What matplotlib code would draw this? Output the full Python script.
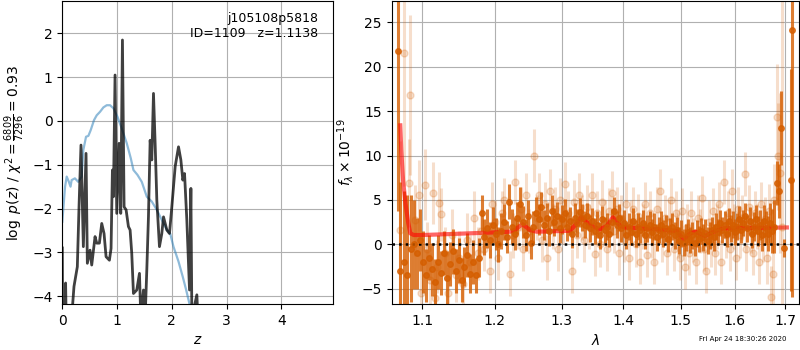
import matplotlib
matplotlib.use("Agg")
import matplotlib.pyplot as plt
from matplotlib.ticker import NullLocator, FixedLocator, FixedFormatter

# --- left panel: redshift probability / chi2 ---
z_pdf = [0.0, 0.005, 0.05, 0.06, 0.07, 0.17, 0.213, 0.274, 0.305, 0.341, 0.384, 0.433,
         0.457, 0.506, 0.537, 0.598, 0.628, 0.677, 0.72, 0.762, 0.799, 0.86, 0.89,
         0.915, 0.933, 0.963, 0.994, 1.037, 1.067, 1.098, 1.128, 1.165, 1.207, 1.238,
         1.268, 1.299, 1.36, 1.409, 1.433, 1.482, 1.512, 1.543, 1.573, 1.604, 1.634,
         1.665, 1.695, 1.726, 1.774, 1.817, 1.848, 1.909, 1.957, 2.0, 2.061, 2.122,
         2.165, 2.201, 2.232, 2.274, 2.323, 2.348, 2.366, 2.457, 2.476]
logp = [-2.9, -4.5, -4.5, -3.7, -4.5, -4.5, -3.78, -3.33, -1.96, -0.55, -2.87, -0.74,
        -3.25, -2.95, -3.29, -2.64, -2.79, -2.79, -2.34, -2.57, -3.10, -3.18, -2.91,
        -1.12, -1.73, 1.05, -2.11, -0.51, -2.11, 1.85, -1.96, -2.03, -2.41, -2.49,
        -3.02, -3.94, -3.86, -3.48, -4.5, -3.86, -4.5, -3.40, -2.19, -0.44, -0.89,
        0.63, -0.51, -1.81, -2.87, -2.57, -2.19, -2.49, -2.57, -1.96, -1.04, -0.59,
        -0.89, -1.35, -1.20, -2.26, -3.86, -1.54, -4.5, -3.97, -4.5]

z_chi = [0.0, 0.05, 0.08, 0.12, 0.15, 0.17, 0.23, 0.29, 0.354, 0.384, 0.433, 0.476,
         0.518, 0.579, 0.628, 0.689, 0.75, 0.811, 0.872, 0.933, 1.006, 1.085, 1.177,
         1.25, 1.299, 1.372, 1.451, 1.543, 1.634, 1.726, 1.817, 1.909, 1.97, 2.03,
         2.122, 2.2, 2.262, 2.323, 2.36]
chi_scaled = [-2.3, -1.5, -1.27, -1.39, -1.5, -1.35, -1.31, -1.39, -1.27, -0.66, -0.36,
              -0.34, -0.21, 0.02, 0.13, 0.21, 0.31, 0.36, 0.36, 0.29, 0.10, -0.17, -0.51,
              -0.85, -1.12, -1.23, -1.39, -1.73, -1.84, -2.03, -2.26, -2.49, -2.57, -2.87,
              -3.21, -3.56, -3.86, -4.18, -4.5]

# --- right panel: 1D spectrum ---
wave_bin = [1.0684, 1.0713, 1.0755, 1.0803, 1.085, 1.089, 1.093, 1.097, 1.101, 1.105,
            1.109, 1.113, 1.117, 1.121, 1.125, 1.129, 1.133, 1.137, 1.141, 1.145,
            1.149, 1.153, 1.157, 1.161, 1.165, 1.169, 1.173, 1.177, 1.181, 1.185,
            1.189, 1.193, 1.197, 1.201, 1.205, 1.209, 1.213, 1.217, 1.221, 1.225,
            1.229, 1.233, 1.237, 1.241, 1.245, 1.249, 1.253, 1.257, 1.261, 1.265,
            1.269, 1.273, 1.277, 1.281, 1.285, 1.289, 1.293, 1.297, 1.301, 1.305,
            1.309, 1.313, 1.317, 1.321, 1.325, 1.329, 1.333, 1.337, 1.341, 1.345,
            1.349, 1.353, 1.357, 1.361, 1.365, 1.369, 1.373, 1.377, 1.381, 1.385,
            1.389, 1.393, 1.397, 1.401, 1.405, 1.409, 1.413, 1.417, 1.421, 1.425,
            1.429, 1.433, 1.437, 1.441, 1.445, 1.449, 1.453, 1.457, 1.461, 1.465,
            1.469, 1.473, 1.477, 1.481, 1.485, 1.489, 1.493, 1.497, 1.501, 1.505,
            1.509, 1.513, 1.517, 1.521, 1.525, 1.529, 1.533, 1.537, 1.541, 1.545,
            1.549, 1.553, 1.557, 1.561, 1.565, 1.569, 1.573, 1.577, 1.581, 1.585,
            1.589, 1.593, 1.597, 1.601, 1.605, 1.609, 1.613, 1.617, 1.621, 1.625,
            1.629, 1.633, 1.637, 1.641, 1.645, 1.649, 1.653, 1.657, 1.661, 1.665,
            1.669, 1.673, 1.677, 1.6833, 1.6886, 1.6914, 1.6981, 1.7118, 1.7151]
flux_bin = [21.8, -3.0, -2.0, -3.5, -0.5, 0.0, -1.0, 0.5, -2.0, -3.5,
            -1.5, -2.8, -4.2, -2.0, -3.2, -1.0, -3.8, -2.2, -0.8, -3.0,
            -1.8, -4.0, -2.5, -1.2, -3.3, -2.0, -3.5, -1.5, 3.5, 0.8,
            1.8, 0.5, 2.2, 1.2, 0.0, 1.5, 2.5, 0.8, 4.8, 2.0,
            1.2, 3.0, 4.5, 2.5, 1.0, 3.2, 0.2, 2.0, 3.5, 2.8,
            4.2, 2.2, 3.0, 1.5, 3.8, 2.5, 3.2, 1.8, 2.8, 3.5,
            2.0, 2.6, 1.2, 3.0, 2.4, 3.6, 3.0, 2.2, 3.2, 1.8,
            2.6, 1.5, 2.2, 1.0, 2.8, 1.6, 2.0, 1.2, 2.5, 3.8,
            2.2, 3.0, 1.8, 2.4, 1.0, 2.0, 1.4, 2.6, 1.2, 2.0,
            1.6, 2.4, 1.0, 1.8, 2.2, 1.4, 2.0, 0.8, 1.6, 2.2,
            1.2, 1.8, 0.6, 1.5, 2.0, 1.0, 1.6, 0.4, 1.2, 0.2,
            0.8, 1.4, 0.5, 1.0, 0.2, 1.2, 0.6, 1.5, 0.8, 1.3,
            0.4, 1.0, 1.6, 0.8, 2.0, 1.4, 2.4, 1.6, 2.2, 1.2,
            2.6, 1.8, 2.2, 1.4, 2.0, 2.8, 1.6, 2.4, 3.2, 1.8,
            2.6, 1.2, 2.0, 2.8, 1.5, 2.2, 1.0, 2.6, 1.8, 1.2,
            2.4, 1.5, 2.0, 6.9, 6.0, 13.1, -0.45, 7.2, 24.1]
err_bin = [18, 10, 8, 9, 6, 5, 4, 3.5, 3.5, 3,
           2.5, 3, 2.5, 3, 2.5, 2.5, 3, 2.5, 2.5, 2.5,
           2.5, 2.5, 2.2, 2.5, 2.2, 2.5, 2.0, 2.2, 2.0, 2.0,
           2.2, 2.0, 2.0, 1.8, 2.0, 2.0, 2.0, 1.8, 2.0, 2.0,
           1.8, 1.8, 2.0, 1.8, 1.8, 1.8, 1.8, 1.8, 1.8, 1.7,
           1.7, 1.7, 1.7, 1.7, 1.7, 1.6, 1.6, 1.6, 1.6, 1.6,
           1.6, 1.6, 1.6, 1.6, 1.6, 1.6, 1.5, 1.5, 1.5, 1.5,
           1.5, 1.5, 1.5, 1.5, 1.5, 1.5, 1.5, 1.5, 1.5, 1.5,
           1.5, 1.5, 1.5, 1.5, 1.5, 1.5, 1.5, 1.5, 1.5, 1.5,
           1.5, 1.5, 1.5, 1.5, 1.5, 1.5, 1.5, 1.5, 1.5, 1.5,
           1.5, 1.5, 1.5, 1.5, 1.5, 1.5, 1.5, 1.5, 1.5, 1.5,
           1.5, 1.5, 1.5, 1.5, 1.5, 1.5, 1.5, 1.5, 1.5, 1.5,
           1.5, 1.5, 1.5, 1.5, 1.5, 1.5, 1.5, 1.5, 1.5, 1.5,
           1.5, 1.5, 1.5, 1.5, 1.5, 1.5, 1.5, 1.5, 1.5, 1.5,
           1.6, 1.6, 1.6, 1.6, 1.7, 1.7, 1.8, 1.8, 1.9, 2.0,
           2.2, 2.5, 3.0, 2.5, 3.0, 4.2, 1.0, 12.5, 30]

wave_raw = [1.0712, 1.0757, 1.0825, 1.0843, 1.0904, 1.0953, 1.098, 1.1035, 1.106, 1.110,
            1.1139, 1.117, 1.120, 1.1228, 1.125, 1.130, 1.135, 1.140, 1.145, 1.150,
            1.155, 1.160, 1.165, 1.170, 1.176, 1.180, 1.185, 1.1931, 1.196, 1.200,
            1.205, 1.210, 1.214, 1.2221, 1.226, 1.230, 1.234, 1.238, 1.242, 1.246,
            1.250, 1.2578, 1.262, 1.266, 1.270, 1.274, 1.278, 1.282, 1.286, 1.290,
            1.294, 1.298, 1.302, 1.306, 1.310, 1.3171, 1.320, 1.324, 1.328, 1.332,
            1.336, 1.340, 1.344, 1.348, 1.3532, 1.357, 1.361, 1.365, 1.369, 1.373,
            1.377, 1.381, 1.385, 1.389, 1.393, 1.397, 1.401, 1.405, 1.409, 1.413,
            1.417, 1.421, 1.425, 1.429, 1.433, 1.437, 1.441, 1.445, 1.449, 1.453,
            1.457, 1.4634, 1.467, 1.471, 1.475, 1.479, 1.483, 1.487, 1.491, 1.495,
            1.499, 1.503, 1.507, 1.511, 1.515, 1.519, 1.523, 1.527, 1.531, 1.535,
            1.539, 1.543, 1.547, 1.551, 1.555, 1.559, 1.563, 1.567, 1.571, 1.575,
            1.5789, 1.583, 1.587, 1.591, 1.595, 1.599, 1.603, 1.607, 1.611, 1.615,
            1.6192, 1.623, 1.627, 1.631, 1.635, 1.639, 1.643, 1.647, 1.651, 1.655,
            1.659, 1.663, 1.667, 1.6712, 1.675, 1.678, 1.6833, 1.686, 1.689, 1.694]
flux_raw = [1.6, 21.6, 6.9, 16.8, 2.7, 5.5, -5.5, 6.7, -0.5, -4.0,
            5.8, -6.0, -2.5, 4.7, 3.4, -1.0, -5.5, 1.0, -3.5, -1.5,
            -4.5, 0.5, -2.0, 3.0, -1.0, 1.5, -0.5, -3.0, 4.5, 2.5,
            -1.5, 3.5, 5.0, -3.3, 1.0, 7.0, 2.0, 4.0, -0.5, 5.5,
            1.5, 10.0, 3.0, 5.5, 0.5, 4.5, -1.5, 6.0, 2.0, 4.0,
            -0.5, 5.0, 2.5, 6.8, 3.5, -3.0, 4.8, 1.0, 5.5, 3.0,
            0.5, 4.2, 2.0, 5.5, -1.1, 3.5, 0.0, 4.8, 2.5, -0.5,
            3.8, 5.8, 1.5, 4.0, -1.0, 3.0, 0.5, 4.5, -1.5, 2.5,
            4.0, 0.0, 3.2, -2.0, 2.0, 4.5, -1.2, 3.5, 1.0, -2.0,
            4.0, 6.0, 0.5, 3.0, -1.0, 2.5, 5.0, -0.5, 3.5, 1.0,
            -1.5, 3.8, -2.5, 2.0, -1.0, 3.5, 0.5, -2.0, 3.0, 1.5,
            5.2, -0.5, -3.0, 2.5, 0.0, 3.8, -1.0, 2.0, 4.5, -2.0,
            7.0, 1.0, 3.5, -0.5, 6.0, 2.0, -1.5, 4.0, 1.0, 3.0,
            7.9, -0.5, 4.2, 1.5, -1.0, 3.5, 2.0, -2.0, 4.5, 0.5,
            2.8, -1.5, 3.8, -5.9, -3.3, 5.0, 14.3, 9.9, 8.0, 2.0]
err_raw = [10, 15, 5, 9, 4, 4, 3.5, 4, 3, 3,
           3.5, 3, 3, 3.5, 3, 3, 3, 3, 3, 3,
           3, 3, 3, 3, 3, 2.5, 2.5, 2.5, 2.5, 2.5,
           2.5, 2.5, 2.5, 2.5, 2.5, 2.5, 2.5, 2.5, 2.5, 2.5,
           2.5, 3, 2.5, 2.5, 2.5, 2.5, 2.5, 2.5, 2.5, 2.5,
           2.5, 2.5, 2.5, 2.5, 2.5, 2.5, 2.5, 2.5, 2.5, 2.5,
           2.5, 2.5, 2.5, 2.5, 2.5, 2.5, 2.5, 2.5, 2.5, 2.5,
           2.5, 2.5, 2.5, 2.5, 2.5, 2.5, 2.5, 2.5, 2.5, 2.5,
           2.5, 2.5, 2.5, 2.5, 2.5, 2.5, 2.5, 2.5, 2.5, 2.5,
           2.5, 2.5, 2.5, 2.5, 2.5, 2.5, 2.5, 2.5, 2.5, 2.5,
           2.5, 2.5, 2.5, 2.5, 2.5, 2.5, 2.5, 2.5, 2.5, 2.5,
           2.5, 2.5, 2.5, 2.5, 2.5, 2.5, 2.5, 2.5, 2.5, 2.5,
           2.5, 2.5, 2.5, 2.5, 2.5, 2.5, 2.5, 2.5, 2.5, 2.5,
           2.5, 2.5, 2.5, 2.5, 2.5, 2.5, 2.5, 2.5, 2.5, 2.5,
           2.5, 3, 3, 3.5, 3.5, 4, 6, 6, 9, 30]

wave_model = [1.0713, 1.0726, 1.0749, 1.0780, 1.0816, 1.0843, 1.0887, 1.1013, 1.2027,
              1.2221, 1.2294, 1.2402, 1.2517, 1.2619, 1.3135, 1.3214, 1.3310, 1.3455,
              1.3604, 1.3726, 1.3825, 1.3947, 1.4031, 1.4576, 1.4932, 1.5051, 1.5172,
              1.5263, 1.5445, 1.5600, 1.5789, 1.7036]
flux_model = [13.4, 10.6, 7.2, 4.6, 2.4, 1.24, 1.05, 1.05, 1.35,
              1.42, 1.61, 2.28, 1.61, 1.42, 1.53, 2.17, 3.04, 2.17,
              1.69, 2.06, 3.04, 2.06, 1.9, 1.69, 1.5, 0.56, 1.24,
              1.42, 0.94, 1.42, 1.8, 1.9]

wave_ticks = [1.1, 1.2, 1.3, 1.4, 1.5, 1.6, 1.7]

g141_color = "#D55E00"

fig = plt.figure(figsize=(8, 3.5), dpi=100)
ax1 = fig.add_axes([0.0779, 0.1314, 0.3388, 0.8657])
ax2 = fig.add_axes([0.4896, 0.1314, 0.5095, 0.8657])

# p(z)
ax1.plot(z_chi, chi_scaled, color="tab:blue", alpha=0.5, lw=1.6)
ax1.plot(z_pdf, logp, color="k", alpha=0.75, lw=2)
ax1.set_xlim(0, 4.95)
ax1.set_ylim(-4.18, 2.74)
ax1.set_xticks([0, 1, 2, 3, 4])
ax1.set_yticks([-4, -3, -2, -1, 0, 1, 2])
ax1.set_xlabel("$z$")
ax1.set_ylabel(r"$\log\ p(z)$ / $\chi^2=\frac{6809}{7296}=0.93$")
ax1.grid()
ax1.text(0.945, 0.965, "j105108p5818\nID=1109   z=1.1138", transform=ax1.transAxes,
         ha="right", va="top", fontsize=9)

# spectrum
ax2.errorbar(wave_raw, flux_raw, yerr=err_raw, marker="o", linestyle="None",
             color=g141_color, alpha=0.2, markersize=5, elinewidth=2.2)
ax2.errorbar(wave_bin, flux_bin, yerr=err_bin, marker="o", linestyle="None",
             color=g141_color, alpha=0.8, markersize=4, elinewidth=2.2)
ax2.plot(wave_model, flux_model, color="r", alpha=0.6, lw=3)
ax2.axhline(0, color="k", linestyle=":", lw=1.8)

ax2.set_xscale("log")
ax2.xaxis.set_major_locator(FixedLocator(wave_ticks))
ax2.xaxis.set_major_formatter(FixedFormatter([f"{w:.1f}" for w in wave_ticks]))
ax2.xaxis.set_minor_locator(NullLocator())
ax2.set_xlim(1.0603, 1.7292)
ax2.set_ylim(-6.72, 27.4)
ax2.set_yticks([-5, 0, 5, 10, 15, 20, 25])
ax2.set_xlabel(r"$\lambda$")
ax2.set_ylabel(r"$f_\lambda\times10^{-19}$")
ax2.grid()

fig.text(0.983, 0.03, "Fri Apr 24 18:30:26 2020", fontsize=5, ha="right", va="center")

fig.savefig("out.png", dpi=100)
